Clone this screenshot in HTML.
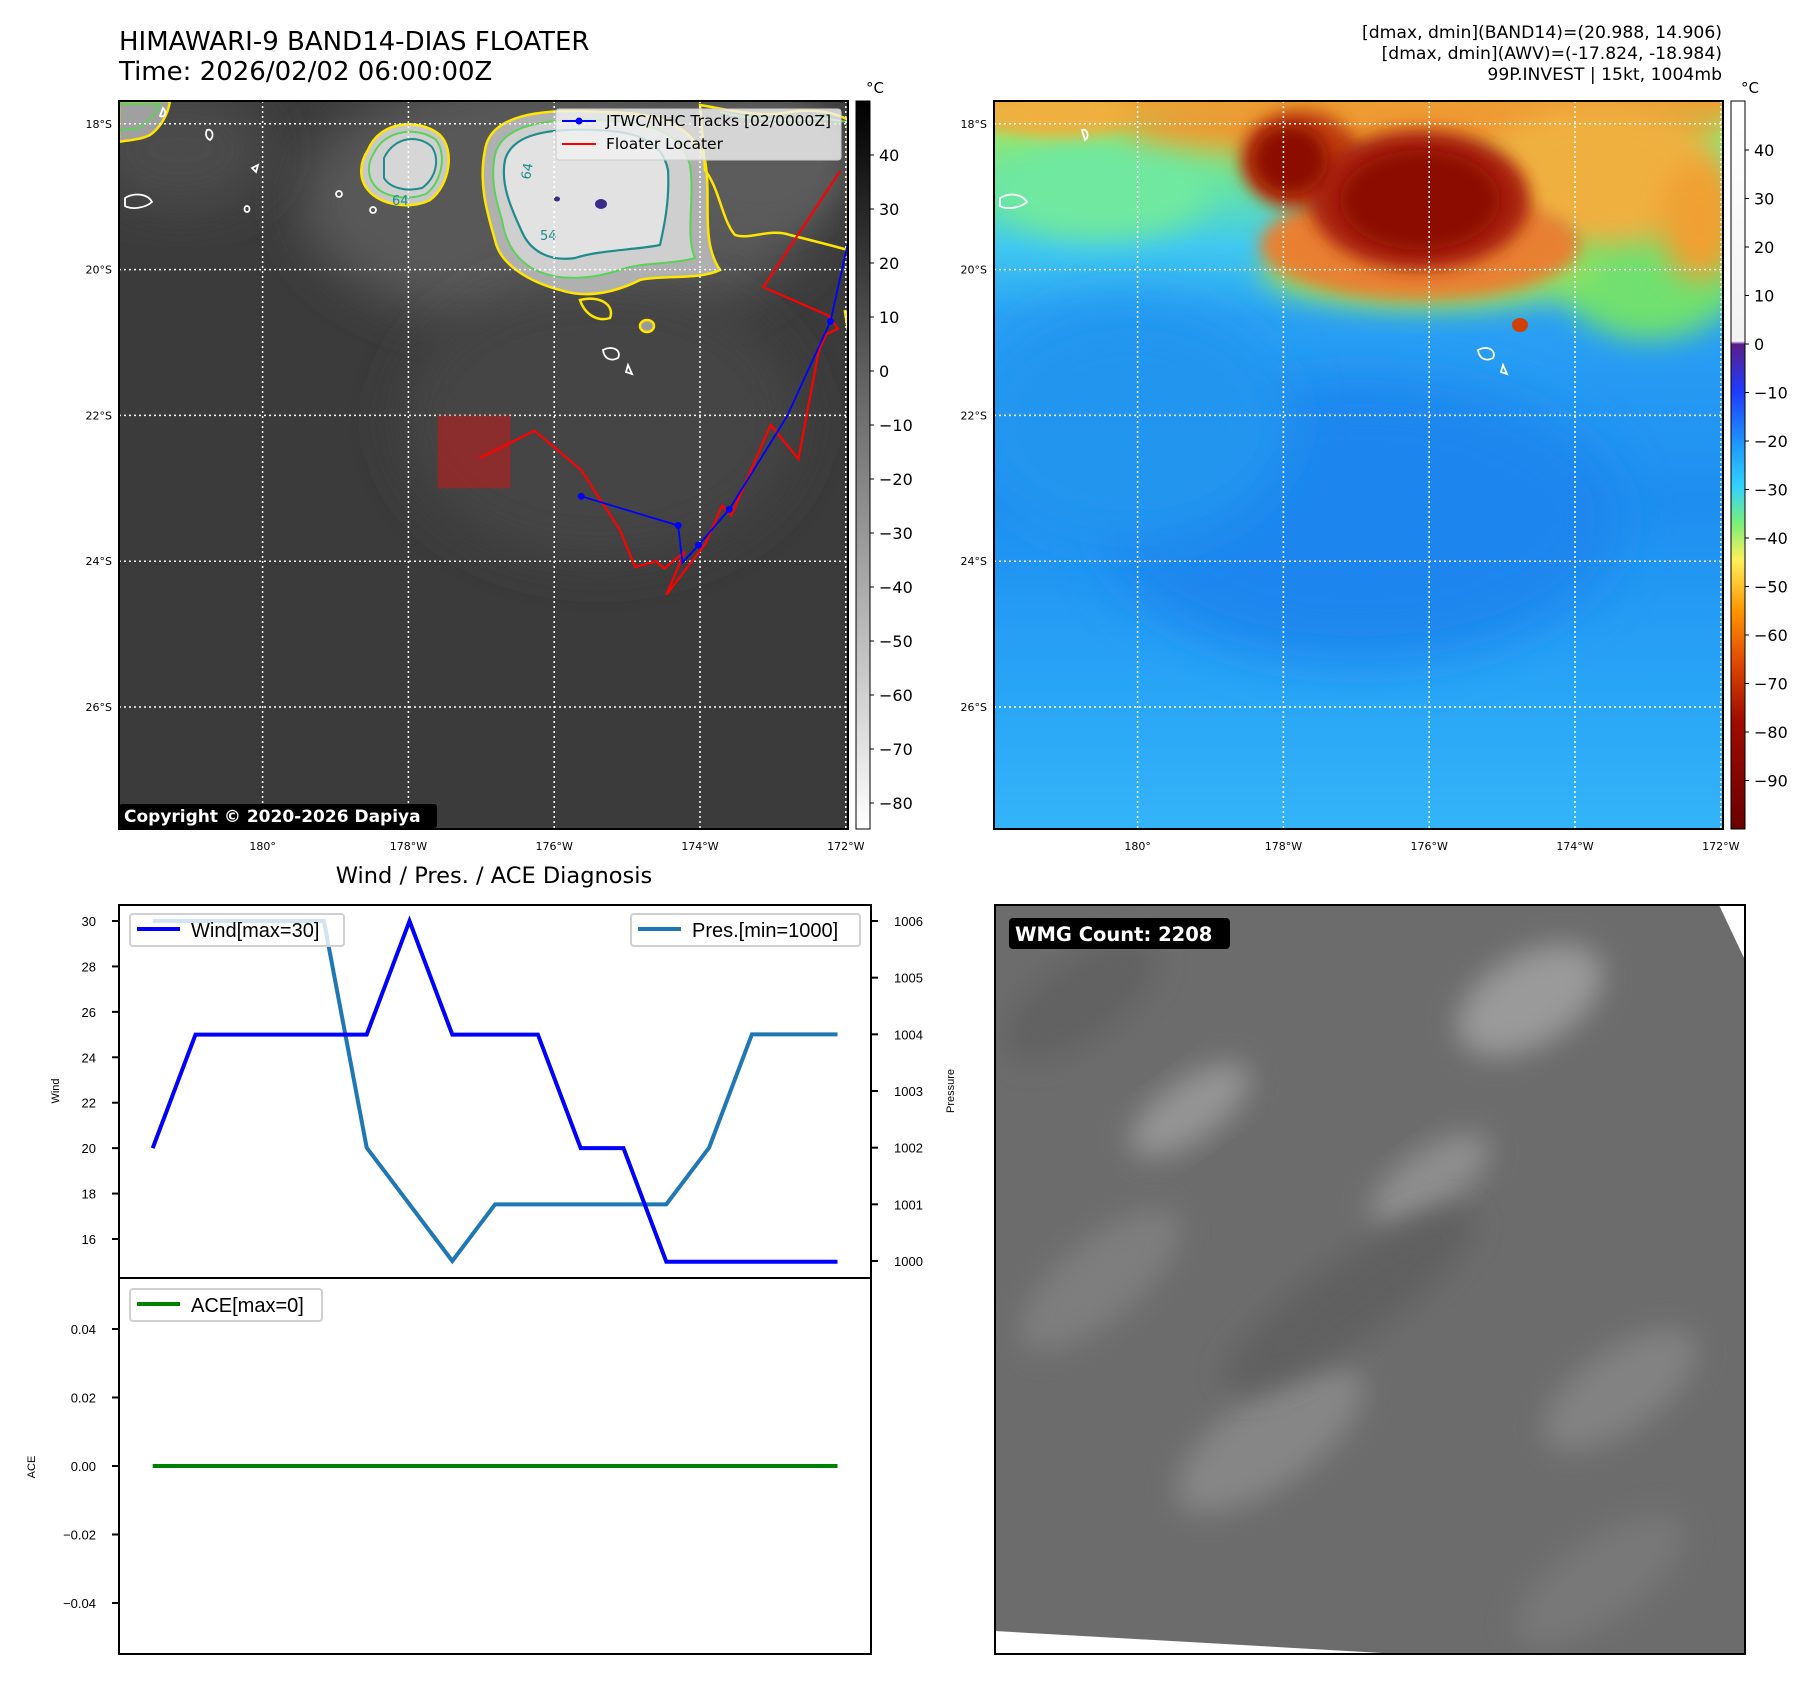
<!DOCTYPE html>
<html><head><meta charset="utf-8">
<style>
html,body{margin:0;padding:0;background:#fff;}
svg{display:block;font-family:"DejaVu Sans","Liberation Sans",sans-serif;}
.n{font-family:"Liberation Sans Narrow","Liberation Sans",sans-serif;}
</style></head>
<body>
<svg id="root" width="1813" height="1690" viewBox="0 0 1813 1690" xmlns="http://www.w3.org/2000/svg">
<defs>
  <filter id="b8" x="-30%" y="-30%" width="160%" height="160%"><feGaussianBlur stdDeviation="8"/></filter>
  <filter id="b14" x="-30%" y="-30%" width="160%" height="160%"><feGaussianBlur stdDeviation="14"/></filter>
  <filter id="b25" x="-30%" y="-30%" width="160%" height="160%"><feGaussianBlur stdDeviation="25"/></filter>
  <linearGradient id="grayCb" x1="0" y1="0" x2="0" y2="1">
    <stop offset="0" stop-color="#000"/><stop offset="1" stop-color="#fff"/>
  </linearGradient>
  <linearGradient id="colCb" x1="0" y1="0" x2="0" y2="1">
    <stop offset="0" stop-color="#ffffff"/>
    <stop offset="0.33" stop-color="#f2f2f2"/>
    <stop offset="0.334" stop-color="#5a1e8c"/>
    <stop offset="0.40" stop-color="#1e3cff"/>
    <stop offset="0.47" stop-color="#1e96ff"/>
    <stop offset="0.53" stop-color="#32d2ff"/>
    <stop offset="0.58" stop-color="#78f078"/>
    <stop offset="0.63" stop-color="#fff05a"/>
    <stop offset="0.70" stop-color="#ff9600"/>
    <stop offset="0.77" stop-color="#e04a00"/>
    <stop offset="0.85" stop-color="#a00c00"/>
    <stop offset="1" stop-color="#6a0000"/>
  </linearGradient>
  <linearGradient id="awvBg" x1="0" y1="0" x2="0" y2="1">
    <stop offset="0" stop-color="#f0a030"/>
    <stop offset="0.05" stop-color="#90e870"/>
    <stop offset="0.13" stop-color="#60e0b0"/>
    <stop offset="0.2" stop-color="#40c8f0"/>
    <stop offset="0.3" stop-color="#2aa0f4"/>
    <stop offset="0.55" stop-color="#1e8ef0"/>
    <stop offset="0.8" stop-color="#28a4f6"/>
    <stop offset="1" stop-color="#34b4f8"/>
  </linearGradient>
  <clipPath id="clipL"><rect x="119" y="101" width="729" height="728"/></clipPath>
  <clipPath id="clipR"><rect x="994" y="101" width="729" height="728"/></clipPath>
  <clipPath id="clipBR"><rect x="995" y="905" width="750" height="749"/></clipPath>
</defs>

<text x="119" y="50" font-size="26" fill="#000">HIMAWARI-9 BAND14-DIAS FLOATER</text>
<text x="119" y="80" font-size="26" fill="#000">Time: 2026/02/02 06:00:00Z</text>
<g font-size="17.2" text-anchor="end" fill="#000">
  <text x="1722" y="38">[dmax, dmin](BAND14)=(20.988, 14.906)</text>
  <text x="1722" y="59">[dmax, dmin](AWV)=(-17.824, -18.984)</text>
  <text x="1722" y="80">99P.INVEST | 15kt, 1004mb</text>
</g>

<g clip-path="url(#clipL)">
  <rect x="119" y="101" width="729" height="728" fill="#3b3b3b"/>
  <ellipse cx="560" cy="200" rx="260" ry="130" fill="#585858" filter="url(#b25)"/>
  <ellipse cx="180" cy="150" rx="90" ry="60" fill="#4c4c4c" filter="url(#b25)"/>
  <ellipse cx="600" cy="420" rx="200" ry="140" fill="#444" filter="url(#b25)"/>
  <ellipse cx="760" cy="160" rx="90" ry="70" fill="#5c5c5c" filter="url(#b14)"/>
  <path d="M368,150 C380,120 420,118 440,135 C455,150 450,185 430,200 C410,210 380,205 368,190 C358,178 360,162 368,150Z" fill="#c8c8c8" stroke="#ffe600" stroke-width="2.5"/>
  <path d="M374,153 C386,128 420,127 436,140 C447,154 442,182 426,194 C408,201 384,197 375,186 C366,175 368,162 374,153Z" fill="#d0d0d0" stroke="#5ad25a" stroke-width="2"/>
  <path d="M384,158 C395,135 420,135 432,147 C440,160 436,178 422,188 C406,192 390,188 384,178 Z" fill="#d6d6d6" stroke="#1e8c8c" stroke-width="2"/>
  <path d="M485,150 C490,115 540,108 600,112 C650,112 690,120 705,160 C712,200 700,240 720,270 C700,280 660,275 640,280 C620,290 590,300 560,290 C530,282 500,265 495,240 C488,215 478,185 485,150Z" fill="#b0b0b0" stroke="#ffe600" stroke-width="2.5"/>
  <path d="M495,155 C502,125 545,118 600,120 C645,121 680,130 690,165 C695,200 685,235 695,258 C670,265 640,262 620,270 C595,278 565,282 540,272 C515,262 505,240 502,220 C496,200 490,180 495,155Z" fill="#cfcfcf" stroke="#5ad25a" stroke-width="2"/>
  <path d="M505,160 C512,135 545,128 595,130 C635,131 662,140 668,170 C670,205 662,235 660,245 C635,250 600,250 575,258 C548,262 530,250 522,232 C512,210 500,185 505,160Z" fill="#e2e2e2" stroke="#1e8c8c" stroke-width="2.2"/>
  <ellipse cx="601" cy="204" rx="6" ry="5" fill="#3a2a8a"/>
  <ellipse cx="557" cy="199" rx="3" ry="2.5" fill="#3a2a8a"/>
  <text x="540" y="240" font-size="13" fill="#1e8c8c">54</text>
  <text x="530" y="180" font-size="13" fill="#1e8c8c" transform="rotate(-80 530 180)">64</text>
  <text x="392" y="205" font-size="13" fill="#1e8c8c">64</text>
  <path d="M119,101 L170,101 C168,115 160,128 150,135 C140,140 128,140 119,142Z" fill="#a0a0a0" stroke="#ffe600" stroke-width="2.5"/>
  <path d="M119,104 L160,104 C155,115 148,122 138,128 C130,130 124,130 119,130Z" fill="none" stroke="#5ad25a" stroke-width="2"/>
  <path d="M700,105 C730,110 760,118 790,112 C820,108 840,115 848,120 L848,250 C830,245 810,240 790,235 C770,228 750,240 735,235 C722,220 720,190 705,170 Z" fill="none" stroke="#ffe600" stroke-width="2.5"/>
  <path d="M720,112 C750,120 790,122 820,118 L848,122" fill="none" stroke="#5ad25a" stroke-width="2"/>
  <path d="M580,300 C600,295 615,305 610,318 C598,322 585,315 580,300Z" fill="none" stroke="#ffe600" stroke-width="2.5"/>
  <ellipse cx="647" cy="326" rx="7" ry="6" fill="#9a9a9a" stroke="#ffe600" stroke-width="2.5"/>
  <path d="M845,310 L848,330" stroke="#ffe600" stroke-width="3"/>
  <g fill="none" stroke="#fff" stroke-width="1.8">
    <path d="M125,198 C135,192 148,194 152,202 C145,208 132,210 125,206Z"/>
    <path d="M163,108 C167,112 165,118 160,116Z"/>
    <path d="M207,130 C212,128 215,136 210,140 C206,138 205,134 207,130Z"/>
    <ellipse cx="247" cy="209" rx="2.5" ry="3"/>
    <ellipse cx="339" cy="194" rx="3" ry="3"/>
    <ellipse cx="373" cy="210" rx="3" ry="3"/>
    <path d="M603,350 C612,345 622,350 618,358 C610,362 604,358 603,350Z"/>
    <path d="M628,365 L632,374 L626,372Z"/>
    <path d="M252,168 L258,165 L256,172Z"/>
  </g>
</g>

<g clip-path="url(#clipR)">
  <rect x="994" y="101" width="729" height="728" fill="url(#awvBg)"/>
  <ellipse cx="1360" cy="520" rx="260" ry="140" fill="#1c86ee" filter="url(#b25)"/>
  <ellipse cx="1130" cy="420" rx="160" ry="120" fill="#2496ef" filter="url(#b25)"/>
  <ellipse cx="1100" cy="190" rx="110" ry="50" fill="#70e8a0" filter="url(#b14)"/>
  <ellipse cx="1650" cy="260" rx="100" ry="80" fill="#70e070" filter="url(#b14)"/>
  <ellipse cx="1060" cy="115" rx="80" ry="22" fill="#f0b040" filter="url(#b8)"/>
  <ellipse cx="1420" cy="125" rx="300" ry="32" fill="#f09830" filter="url(#b14)"/>
  <ellipse cx="1600" cy="175" rx="120" ry="70" fill="#f0b040" filter="url(#b14)"/>
  <ellipse cx="1430" cy="270" rx="170" ry="40" fill="#90e060" filter="url(#b14)"/>
  <ellipse cx="1420" cy="245" rx="160" ry="55" fill="#e88030" filter="url(#b8)"/>
  <ellipse cx="1300" cy="160" rx="60" ry="50" fill="#c04010" filter="url(#b8)"/>
  <ellipse cx="1420" cy="200" rx="110" ry="70" fill="#a82008" filter="url(#b8)"/>
  <ellipse cx="1420" cy="200" rx="80" ry="50" fill="#8c0800" filter="url(#b8)"/>
  <ellipse cx="1290" cy="160" rx="38" ry="35" fill="#8c0800" filter="url(#b8)"/>
  <ellipse cx="1520" cy="325" rx="8" ry="7" fill="#d04000"/>
  <ellipse cx="1700" cy="220" rx="40" ry="60" fill="#f0a030" filter="url(#b14)"/>
  <g fill="none" stroke="#fff" stroke-width="1.8">
    <path d="M1000,198 C1010,192 1022,194 1027,202 C1020,208 1007,210 1000,206Z"/>
    <path d="M1478,350 C1487,345 1497,350 1493,358 C1485,362 1479,358 1478,350Z"/>
    <path d="M1503,365 L1507,374 L1501,372Z"/>
    <path d="M1082,130 C1087,128 1090,136 1085,140Z"/>
  </g>
</g>

<g id="gridL"></g>
<g id="gridR"></g>

<g id="tracks" clip-path="url(#clipL)"></g>

<rect x="119" y="101" width="729" height="728" fill="none" stroke="#000" stroke-width="2"/>
<rect x="994" y="101" width="729" height="728" fill="none" stroke="#000" stroke-width="2"/>

<g>
  <rect x="556" y="109" width="285" height="51" rx="3" fill="#f0f0f0" fill-opacity="0.82" stroke="#ccc"/>
  <line x1="562" y1="121" x2="596" y2="121" stroke="#00f" stroke-width="2"/>
  <circle cx="579" cy="121" r="3.5" fill="#00f"/>
  <text x="606" y="126" font-size="15.5" fill="#000">JTWC/NHC Tracks [02/0000Z]</text>
  <line x1="562" y1="144" x2="596" y2="144" stroke="#f00" stroke-width="2"/>
  <text x="606" y="149" font-size="15.5" fill="#000">Floater Locater</text>
</g>

<g>
  <rect x="119" y="804" width="318" height="24" rx="3" fill="#000"/>
  <text x="124" y="822" font-size="17" font-weight="bold" fill="#fff">Copyright © 2020-2026 Dapiya</text>
</g>

<rect x="856" y="101" width="14" height="728" fill="url(#grayCb)" stroke="#000" stroke-width="1"/>
<text x="866" y="93" font-size="15">°C</text>
<g id="cbL"></g>
<rect x="1731" y="101" width="14" height="728" fill="url(#colCb)" stroke="#000" stroke-width="1"/>
<text x="1741" y="93" font-size="15">°C</text>
<g id="cbR"></g>

<text x="494" y="883" font-size="22.5" text-anchor="middle">Wind / Pres. / ACE Diagnosis</text>
<g id="chart"></g>
<rect x="119" y="905" width="752" height="373" fill="none" stroke="#000" stroke-width="2"/>
<rect x="119" y="1278" width="752" height="376" fill="none" stroke="#000" stroke-width="2"/>
<text class="n" transform="translate(59 1091) rotate(-90)" font-size="11" text-anchor="middle">Wind</text>
<text class="n" transform="translate(954 1091) rotate(-90)" font-size="11" text-anchor="middle">Pressure</text>
<text class="n" transform="translate(35 1467) rotate(-90)" font-size="11" text-anchor="middle">ACE</text>

<g>
  <rect x="130" y="914" width="214" height="32" rx="3" fill="#fff" fill-opacity="0.8" stroke="#d0d0d0" stroke-width="2"/>
  <line x1="137" y1="929" x2="180" y2="929" stroke="#0000ff" stroke-width="4"/>
  <text class="n" x="191" y="937" font-size="20">Wind[max=30]</text>
</g>
<g>
  <rect x="631" y="914" width="229" height="32" rx="3" fill="#fff" fill-opacity="0.8" stroke="#d0d0d0" stroke-width="2"/>
  <line x1="638" y1="929" x2="681" y2="929" stroke="#1f77b4" stroke-width="4"/>
  <text class="n" x="692" y="937" font-size="20">Pres.[min=1000]</text>
</g>
<g>
  <rect x="130" y="1289" width="192" height="32" rx="3" fill="#fff" fill-opacity="0.8" stroke="#d0d0d0" stroke-width="2"/>
  <line x1="137" y1="1304" x2="180" y2="1304" stroke="#008000" stroke-width="4"/>
  <text class="n" x="191" y="1312" font-size="20">ACE[max=0]</text>
</g>

<g clip-path="url(#clipBR)">
  <rect x="995" y="905" width="750" height="749" fill="#6c6c6c"/>
  <ellipse cx="1530" cy="1000" rx="80" ry="45" fill="#9a9a9a" filter="url(#b14)" transform="rotate(-30 1530 1000)"/>
  <ellipse cx="1190" cy="1110" rx="70" ry="30" fill="#949494" filter="url(#b14)" transform="rotate(-35 1190 1110)"/>
  <ellipse cx="1430" cy="1180" rx="70" ry="30" fill="#8e8e8e" filter="url(#b14)" transform="rotate(-35 1430 1180)"/>
  <ellipse cx="1270" cy="1440" rx="110" ry="45" fill="#868686" filter="url(#b14)" transform="rotate(-35 1270 1440)"/>
  <ellipse cx="1620" cy="1390" rx="90" ry="40" fill="#828282" filter="url(#b14)" transform="rotate(-35 1620 1390)"/>
  <ellipse cx="1100" cy="1280" rx="100" ry="40" fill="#7e7e7e" filter="url(#b14)" transform="rotate(-40 1100 1280)"/>
  <ellipse cx="1350" cy="1300" rx="150" ry="40" fill="#616161" filter="url(#b14)" transform="rotate(-35 1350 1300)"/>
  <ellipse cx="1600" cy="1580" rx="100" ry="40" fill="#787878" filter="url(#b14)" transform="rotate(-35 1600 1580)"/>
  <ellipse cx="1080" cy="1000" rx="90" ry="40" fill="#626262" filter="url(#b14)" transform="rotate(-35 1080 1000)"/>
  <polygon points="1719,905 1745,905 1745,960" fill="#fff"/>
  <polygon points="995,1631 1400,1654 995,1654" fill="#fff"/>
</g>
<rect x="995" y="905" width="750" height="749" fill="none" stroke="#000" stroke-width="2"/>
<g>
  <rect x="1009" y="918" width="221" height="31" rx="4" fill="#000"/>
  <text x="1015" y="941" font-size="19.5" font-weight="bold" fill="#fff">WMG Count: 2208</text>
</g>

<script>
// ===== Chart data =====
const timeIndex = [0,1,2,3,4,5,6,7,8,9,10,11,12,13,14,15,16];
const windValues = [20,25,25,25,25,25,30,25,25,25,20,20,15,15,15,15,15];
const pressureValues = [1006,1006,1006,1006,1006,1002,1001,1000,1001,1001,1001,1001,1001,1002,1004,1004,1004];
const aceValues = [0,0,0,0,0,0,0,0,0,0,0,0,0,0,0,0,0];
const windTicks = [16,18,20,22,24,26,28,30];
const pressureTicks = [1000,1001,1002,1003,1004,1005,1006];
const aceTicks = [0.04,0.02,0.00,-0.02,-0.04];
const aceTickLabels = ["0.04","0.02","0.00","\u22120.02","\u22120.04"];
// ===== Map data =====
const latTicks = [18,20,22,24,26];
const lonTicks = [180,178,176,174,172];
const lonTickLabels = ["180°","178°W","176°W","174°W","172°W"];
const irCbTicks = [40,30,20,10,0,-10,-20,-30,-40,-50,-60,-70,-80];
const awvCbTicks = [40,30,20,10,0,-10,-20,-30,-40,-50,-60,-70,-80,-90];
const jtwcLon = [-175.63,-174.30,-174.24,-174.02,-173.60,-172.81,-172.21,-171.97];
const jtwcLat = [23.11,23.51,24.02,23.78,23.29,22.02,20.71,19.63];
const jtwcMarkIdx = [0,1,3,4,6];
const floaterLon = [-177.03,-176.27,-175.63,-175.10,-174.89,-174.60,-174.49,-174.21,-174.46,-173.92,-173.70,-173.57,-173.03,-172.65,-172.37,-172.27,-172.11,-172.24,-173.13,-172.08];
const floaterLat = [22.59,22.21,22.75,23.57,24.08,24.00,24.10,23.87,24.46,23.75,23.24,23.37,22.13,22.60,21.11,20.89,20.81,20.63,20.24,18.65];
const boxLon = [-177.6,-176.6];
const boxLat = [22.0,23.0];

const NS='http://www.w3.org/2000/svg';
function mk(tag, attrs, parent){const e=document.createElementNS(NS,tag);for(const k in attrs)e.setAttribute(k,attrs[k]);parent.appendChild(e);return e;}

const X0=152.7, DX=42.8;
function xs(i){return X0+i*DX;}
function yWind(v){return 921+(30-v)*(1239-921)/14;}
function yPres(v){return 921+(1006-v)*(1261-921)/6;}
function yAce(v){return 1466-v*(1466-1329)/0.04;}

const chart=document.getElementById('chart');
windTicks.forEach(v=>{
  const y=yWind(v);
  const t=mk('line',{x1:112,x2:119,y1:y,y2:y,stroke:'#000','stroke-width':2},chart);
  
  
  const l=mk('text',{x:96,y:y+5,'font-size':13,'text-anchor':'end',class:'n'},chart);
  l.textContent=v;
  
  
});
pressureTicks.forEach(v=>{
  const y=yPres(v);
  const t=mk('line',{x1:871,x2:878,y1:y,y2:y,stroke:'#000','stroke-width':2},chart);
  
  
  const l=mk('text',{x:894,y:y+5,'font-size':13,class:'n'},chart);
  l.textContent=v;
  
  
});
aceTicks.forEach((v,i)=>{
  const y=yAce(v);
  const t=mk('line',{x1:112,x2:119,y1:y,y2:y,stroke:'#000','stroke-width':2},chart);
  
  
  const l=mk('text',{x:96,y:y+5,'font-size':13,'text-anchor':'end',class:'n'},chart);
  l.textContent=aceTickLabels[i];
  
  
});
const pl=mk('polyline',{points:timeIndex.map((t,i)=>xs(t)+','+yPres(pressureValues[i])).join(' '),fill:'none',stroke:'#1f77b4','stroke-width':4},chart);


const wl=mk('polyline',{points:timeIndex.map((t,i)=>xs(t)+','+yWind(windValues[i])).join(' '),fill:'none',stroke:'#0000ff','stroke-width':4},chart);


const al=mk('polyline',{points:timeIndex.map((t,i)=>xs(t)+','+yAce(aceValues[i])).join(' '),fill:'none',stroke:'#008000','stroke-width':4},chart);



function mxL(lon){const w=lon<0?180+(180+lon):lon;return 262.6+(w-180)*72.9;}
function mxR(lon){return mxL(lon)+875;}
function my(lat){return 123.8+(lat-18)*72.9;}

function grid(gid, mx, x0, x1, labX){
  const g=document.getElementById(gid);
  latTicks.forEach(lat=>{
    const y=my(lat);
    const ln=mk('line',{x1:x0,x2:x1,y1:y,y2:y,stroke:'#fff','stroke-width':1.5,'stroke-dasharray':'2,3'},g);
    
    
    const t=mk('text',{x:labX,y:y+4,'font-size':11,'text-anchor':'end'},g);
    t.textContent=lat+'°S';
    
    
  });
  lonTicks.forEach((lon,i)=>{
    const x=mx(lon===180?180:-lon);
    const ln=mk('line',{x1:x,x2:x,y1:101,y2:829,stroke:'#fff','stroke-width':1.5,'stroke-dasharray':'2,3'},g);
    
    
    const t=mk('text',{x:x,y:850,'font-size':11,'text-anchor':'middle'},g);
    t.textContent=lonTickLabels[i];
    
    
  });
}
grid('gridL',mxL,119,848,112);
grid('gridR',mxR,994,1723,987);

function cbTicks(gid, ticks, x, yf){
  const g=document.getElementById(gid);
  ticks.forEach(v=>{
    const y=yf(v);
    mk('line',{x1:x,x2:x+4,y1:y,y2:y,stroke:'#000','stroke-width':1},g);
    const t=mk('text',{x:x+9,y:y+6,'font-size':16},g);
    t.textContent=v<0?'\u2212'+(-v):String(v);
    
    
  });
}
cbTicks('cbL',irCbTicks,870,v=>155+(40-v)*5.4);
cbTicks('cbR',awvCbTicks,1745,v=>150+(40-v)*4.85);

const tr=document.getElementById('tracks');
const bx=mk('rect',{x:mxL(boxLon[0]),y:my(boxLat[0]),width:mxL(boxLon[1])-mxL(boxLon[0]),height:my(boxLat[1])-my(boxLat[0]),fill:'#b02020','fill-opacity':0.65},tr);


const fl=mk('polyline',{points:floaterLon.map((lo,i)=>mxL(lo)+','+my(floaterLat[i])).join(' '),fill:'none',stroke:'#ff0000','stroke-width':2.2},tr);


const jl=mk('polyline',{points:jtwcLon.map((lo,i)=>mxL(lo)+','+my(jtwcLat[i])).join(' '),fill:'none',stroke:'#0000ff','stroke-width':1.8},tr);


jtwcMarkIdx.forEach(i=>{
  const c=mk('circle',{cx:mxL(jtwcLon[i]),cy:my(jtwcLat[i]),r:3.5,fill:'#0000ff'},tr);
  
  
});
</script>
</svg>
</body></html>
